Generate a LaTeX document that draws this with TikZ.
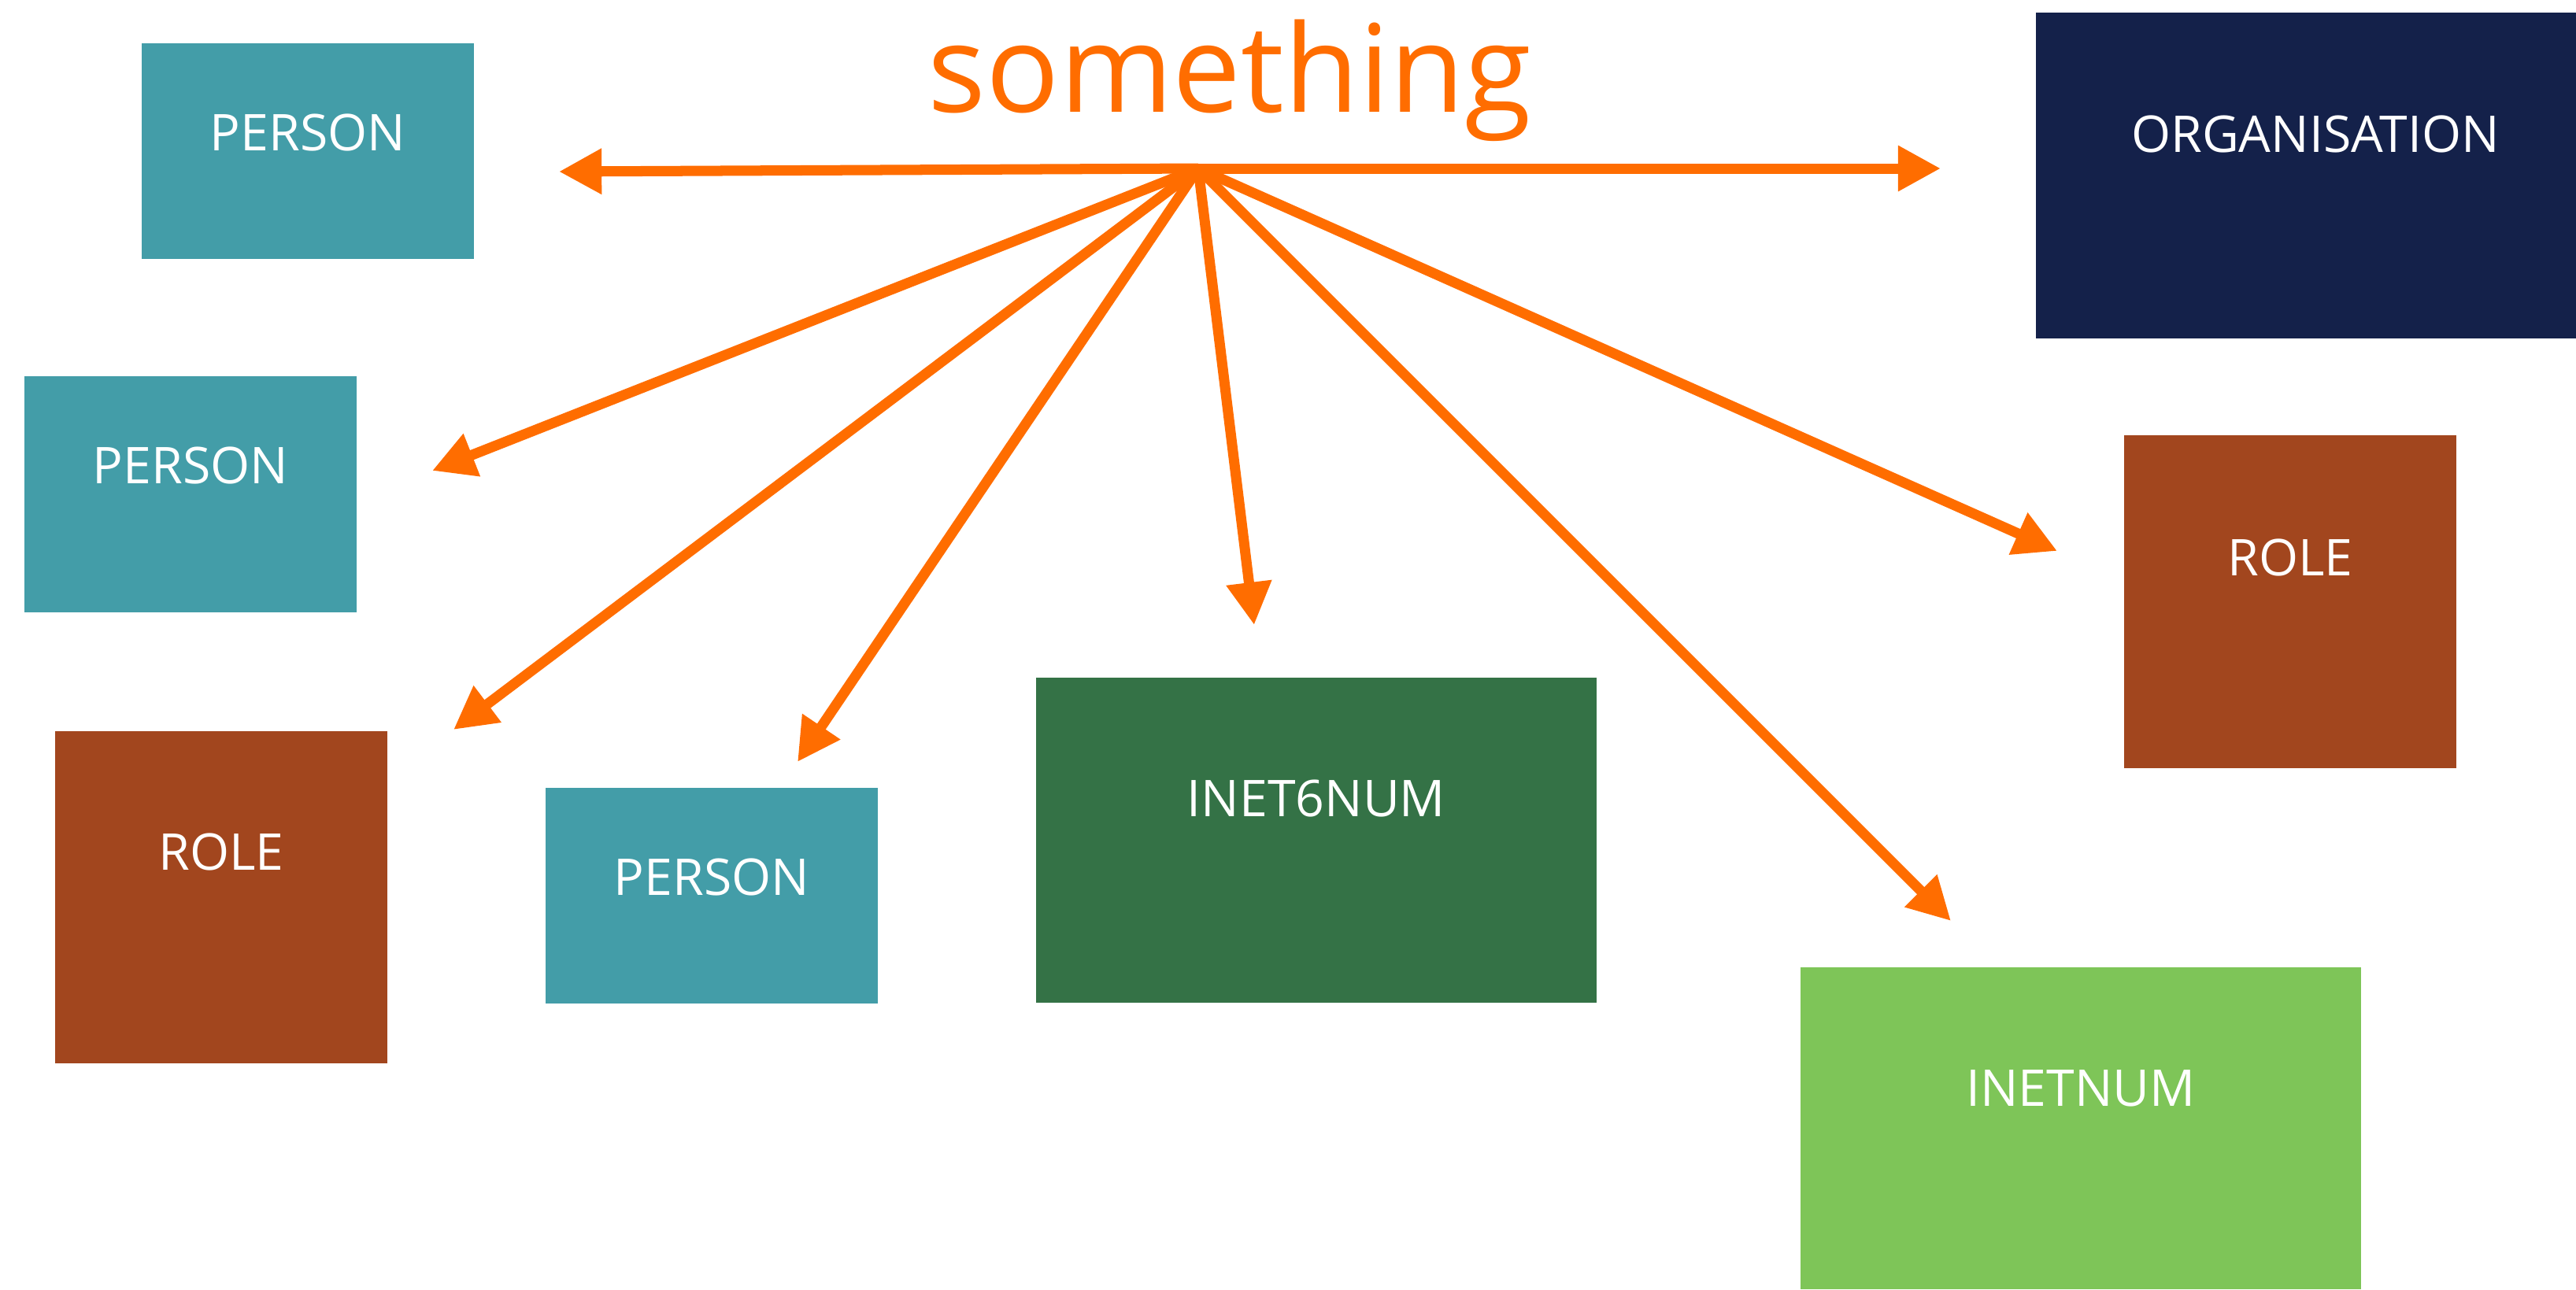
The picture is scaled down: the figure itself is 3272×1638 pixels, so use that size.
\documentclass[tikz,border=0pt]{standalone}
\usepackage{fontspec}
\setmainfont{Open Sans}
\usetikzlibrary{arrows.meta}
\definecolor{cteal}{HTML}{439DA8}
\definecolor{cnavy}{HTML}{14214A}
\definecolor{cbrown}{HTML}{A2461E}
\definecolor{cdgreen}{HTML}{347246}
\definecolor{clgreen}{HTML}{7EC558}
\definecolor{corange}{HTML}{FF6D00}
\tikzset{
  box/.style={draw=none, inner sep=0pt, outer sep=0pt},
  lbl/.style={text=white, inner sep=0pt, anchor=base, font=\fontsize{18.3pt}{22pt}\selectfont},
  conn/.style={draw=corange, line width=3.7pt, -{Triangle[length=15.4pt,width=15.6pt]}},
}
\begin{document}
\begin{tikzpicture}[x=0.01cm, y=-0.01cm]
\useasboundingbox (0,0) rectangle (3272,1638);
\fill[white] (0,0) rectangle (3272,1638);
% boxes
\node[box, fill=cteal, minimum width=4.22cm, minimum height=2.74cm] (p1) at (391,192) {};
\node[box, fill=cnavy, minimum width=6.86cm, minimum height=4.14cm] (org) at (2929,223) {};
\node[box, fill=cteal, minimum width=4.22cm, minimum height=3.00cm] (p2) at (242,628) {};
\node[box, fill=cbrown, minimum width=4.22cm, minimum height=4.23cm] (r1) at (2909,764.5) {};
\node[box, fill=cbrown, minimum width=4.22cm, minimum height=4.22cm] (r2) at (281,1140) {};
\node[box, fill=cteal, minimum width=4.22cm, minimum height=2.74cm] (p3) at (904,1138) {};
\node[box, fill=cdgreen, minimum width=7.12cm, minimum height=4.13cm] (i6) at (1672,1067.5) {};
\node[box, fill=clgreen, minimum width=7.12cm, minimum height=4.09cm] (i4) at (2643,1433.5) {};
% labels
\node[lbl] (p1t) at (391,191) {PERSON};
\node[lbl] (orgt) at (2941,193) {ORGANISATION};
\node[lbl] (p2t) at (242,614) {PERSON};
\node[lbl] (r1t) at (2909,731) {ROLE};
\node[lbl] (r2t) at (281,1105) {ROLE};
\node[lbl] (p3t) at (904,1137) {PERSON};
\node[lbl] (i6t) at (1672,1037) {INET6NUM};
\node[lbl] (i4t) at (2643,1405) {INETNUM};
% title
\node[text=corange, inner sep=0pt, anchor=base, font=\fontsize{44pt}{53pt}\selectfont] (title) at (1562,142) {something};
% connectors
\coordinate (hub) at (1522,214);
\coordinate (tL) at (710,218);
\coordinate (tR) at (2465,214);
\coordinate (tP2) at (549,598);
\coordinate (tR2) at (576,927);
\coordinate (tP3) at (1013,968);
\coordinate (tI6) at (1593,794);
\coordinate (tR1) at (2613,700);
\coordinate (tI4) at (2478,1170);
\draw[conn] (hub) -- (tL);
\draw[conn] (hub) -- (tR);
\draw[conn] (hub) -- (tP2);
\draw[conn] (hub) -- (tR2);
\draw[conn] (hub) -- (tP3);
\draw[conn] (hub) -- (tI6);
\draw[conn] (hub) -- (tR1);
\draw[conn] (hub) -- (tI4);
\end{tikzpicture}
\end{document}
